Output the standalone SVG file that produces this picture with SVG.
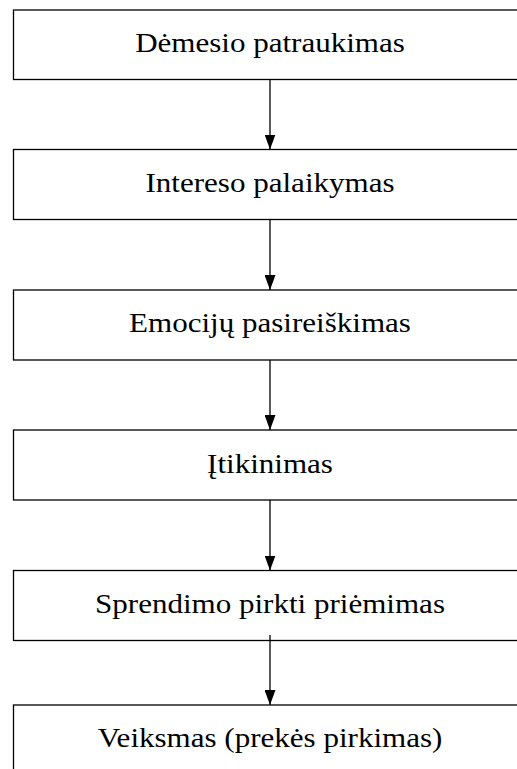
<svg xmlns="http://www.w3.org/2000/svg" width="517" height="769" viewBox="0 0 517 769">
  <style>
    .box { fill: #ffffff; stroke: #000000; stroke-width: 1.3; }
    .lbl { font-family: "Liberation Serif", "Times New Roman", serif; font-size: 27px; fill: #000000; text-anchor: middle; }
    .edge { stroke: #000000; stroke-width: 1.3; fill: none; }
    .head { fill: #000000; }
  </style>
  <defs>
    <marker id="arrow" viewBox="0 0 15 11" refX="15" refY="5.5" markerWidth="15" markerHeight="11" markerUnits="userSpaceOnUse" orient="auto">
      <path d="M0,0 L15,5.5 L0,11 Z" class="head"/>
    </marker>
  </defs>
  <rect x="0" y="0" width="517" height="769" fill="#ffffff"/>

  <g id="node1">
    <rect class="box" x="13.5" y="10" width="520" height="69.5"/>
    <text class="lbl" transform="translate(270,52) scale(1.15,1)">Dėmesio patraukimas</text>
  </g>
  <g id="node2">
    <rect class="box" x="13.5" y="149.5" width="520" height="70"/>
    <text class="lbl" transform="translate(270,192) scale(1.15,1)">Intereso palaikymas</text>
  </g>
  <g id="node3">
    <rect class="box" x="13.5" y="290" width="520" height="70"/>
    <text class="lbl" transform="translate(270,332) scale(1.15,1)">Emocijų pasireiškimas</text>
  </g>
  <g id="node4">
    <rect class="box" x="13.5" y="430" width="520" height="70"/>
    <text class="lbl" transform="translate(270,472.5) scale(1.15,1)">Įtikinimas</text>
  </g>
  <g id="node5">
    <rect class="box" x="13.5" y="570.5" width="520" height="70"/>
    <text class="lbl" transform="translate(270,613) scale(1.15,1)">Sprendimo pirkti priėmimas</text>
  </g>
  <g id="node6">
    <rect class="box" x="13.5" y="705" width="520" height="80"/>
    <text class="lbl" transform="translate(270,747) scale(1.15,1)">Veiksmas (prekės pirkimas)</text>
  </g>

  <g id="connectors">
    <line class="edge" x1="270" y1="79.5" x2="270" y2="149.5" marker-end="url(#arrow)"/>
    <line class="edge" x1="270" y1="219.5" x2="270" y2="290" marker-end="url(#arrow)"/>
    <line class="edge" x1="270" y1="360" x2="270" y2="430" marker-end="url(#arrow)"/>
    <line class="edge" x1="270" y1="500" x2="270" y2="570.5" marker-end="url(#arrow)"/>
    <line class="edge" x1="270" y1="635" x2="270" y2="705" marker-end="url(#arrow)"/>
  </g>
</svg>
